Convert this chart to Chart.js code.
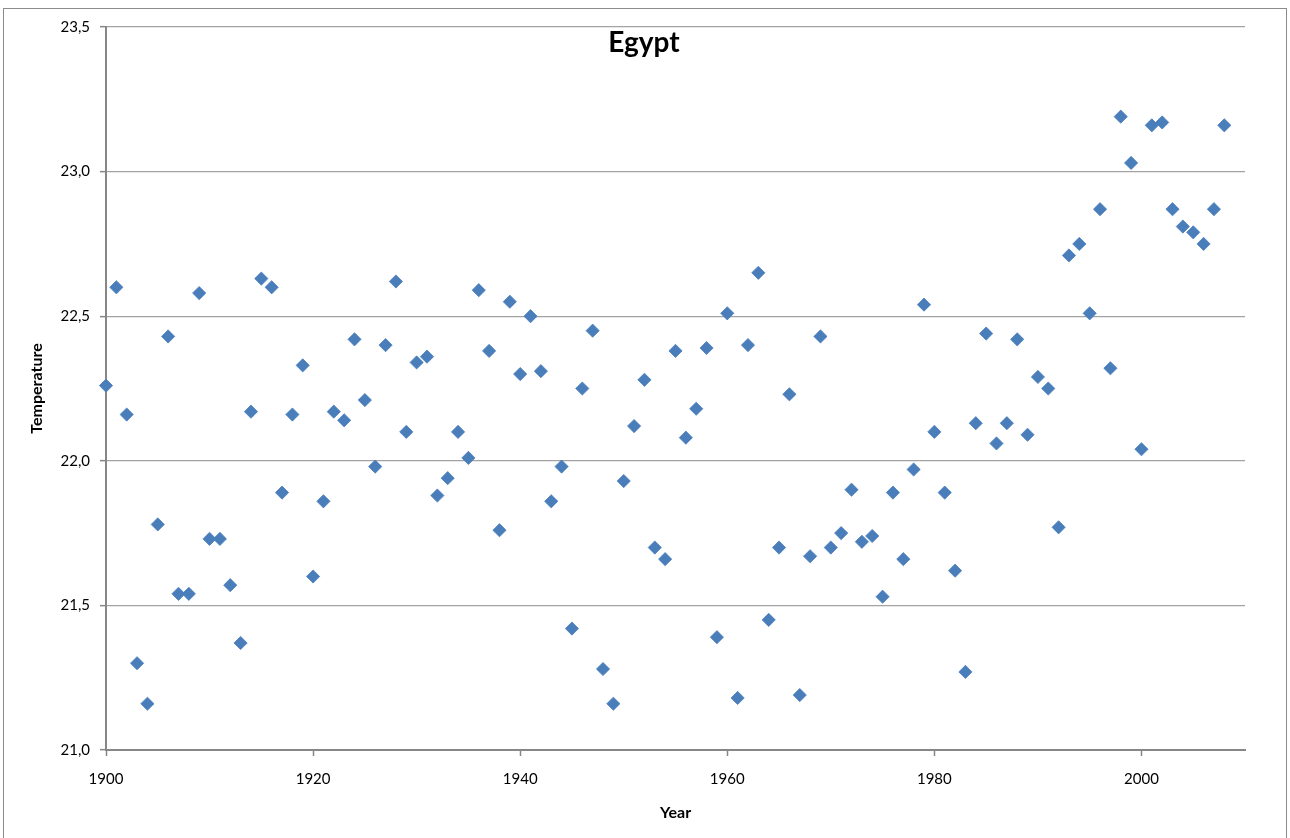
<!DOCTYPE html>
<html>
<head>
<meta charset="utf-8">
<title>Egypt</title>
<script src="https://cdn.jsdelivr.net/npm/chart.js@4/dist/chart.umd.min.js"></script>
<style>
  html, body { margin: 0; padding: 0; background: #ffffff; }
  #wrap { position: relative; width: 1290px; height: 838px; }
  canvas { display: block; }
</style>
</head>
<body>
<div id="wrap"><canvas id="chart" width="1290" height="838"></canvas></div>
<script>
// Annual mean temperature, Egypt
const years = [
  1900, 1901, 1902, 1903, 1904, 1905, 1906, 1907, 1908, 1909,
  1910, 1911, 1912, 1913, 1914, 1915, 1916, 1917, 1918, 1919,
  1920, 1921, 1922, 1923, 1924, 1925, 1926, 1927, 1928, 1929,
  1930, 1931, 1932, 1933, 1934, 1935, 1936, 1937, 1938, 1939,
  1940, 1941, 1942, 1943, 1944, 1945, 1946, 1947, 1948, 1949,
  1950, 1951, 1952, 1953, 1954, 1955, 1956, 1957, 1958, 1959,
  1960, 1961, 1962, 1963, 1964, 1965, 1966, 1967, 1968, 1969,
  1970, 1971, 1972, 1973, 1974, 1975, 1976, 1977, 1978, 1979,
  1980, 1981, 1982, 1983, 1984, 1985, 1986, 1987, 1988, 1989,
  1990, 1991, 1992, 1993, 1994, 1995, 1996, 1997, 1998, 1999,
  2000, 2001, 2002, 2003, 2004, 2005, 2006, 2007, 2008
];

const temperatures = [
  22.26, 22.60, 22.16, 21.30, 21.16, 21.78, 22.43, 21.54, 21.54, 22.58,
  21.73, 21.73, 21.57, 21.37, 22.17, 22.63, 22.60, 21.89, 22.16, 22.33,
  21.60, 21.86, 22.17, 22.14, 22.42, 22.21, 21.98, 22.40, 22.62, 22.10,
  22.34, 22.36, 21.88, 21.94, 22.10, 22.01, 22.59, 22.38, 21.76, 22.55,
  22.30, 22.50, 22.31, 21.86, 21.98, 21.42, 22.25, 22.45, 21.28, 21.16,
  21.93, 22.12, 22.28, 21.70, 21.66, 22.38, 22.08, 22.18, 22.39, 21.39,
  22.51, 21.18, 22.40, 22.65, 21.45, 21.70, 22.23, 21.19, 21.67, 22.43,
  21.70, 21.75, 21.90, 21.72, 21.74, 21.53, 21.89, 21.66, 21.97, 22.54,
  22.10, 21.89, 21.62, 21.27, 22.13, 22.44, 22.06, 22.13, 22.42, 22.09,
  22.29, 22.25, 21.77, 22.71, 22.75, 22.51, 22.87, 22.32, 23.19, 23.03,
  22.04, 23.16, 23.17, 22.87, 22.81, 22.79, 22.75, 22.87, 23.16
];

// Axis ranges and tick steps
const xRange = [1900, 2010];
const xStep = 20;
const yRange = [21.0, 23.5];
const yStep = 0.5;

const chartTitle = 'Egypt';
const xTitle = 'Year';
const yTitle = 'Temperature';

const points = years.map((yr, i) => ({ x: yr, y: temperatures[i] }));

const FONT = 'Lato, "Open Sans", "DejaVu Sans", sans-serif';
const AXIS_GREY = '#878787';
const GRID_GREY = '#A3A3A3';

// Outer frame and overlaid title
const framePlugin = {
  id: 'frameAndTitle',
  afterDraw(chart) {
    const ctx = chart.ctx;
    ctx.save();
    ctx.strokeStyle = '#8c8c8c';
    ctx.lineWidth = 1;
    ctx.strokeRect(3.5, 8.5, 1283, 835);
    ctx.fillStyle = '#000';
    ctx.font = 'bold 28px ' + FONT;
    ctx.textAlign = 'center';
    ctx.textBaseline = 'middle';
    ctx.fillText(chartTitle, 644, 43);
    ctx.restore();
  }
};

new Chart(document.getElementById('chart'), {
  type: 'scatter',
  data: {
    datasets: [{
      label: chartTitle,
      data: points,
      clip: false,
      pointStyle: 'rectRot',
      pointRadius: 6.6,
      pointHoverRadius: 6.6,
      backgroundColor: '#4A7EBB',
      borderColor: '#4A7EBB',
      borderWidth: 0.8
    }]
  },
  options: {
    responsive: false,
    animation: false,
    events: [],
    layout: { padding: { left: 0, top: 27, right: 45, bottom: 0 } },
    plugins: {
      legend: { display: false },
      tooltip: { enabled: false },
      title: { display: false }
    },
    scales: {
      x: {
        type: 'linear',
        min: xRange[0],
        max: xRange[1],
        afterFit(scale) { scale.height = 88; },
        ticks: {
          stepSize: xStep,
          includeBounds: false,
          padding: 14,
          color: '#000',
          font: { family: FONT, size: 15 },
          callback: v => String(v)
        },
        grid: {
          display: true,
          drawOnChartArea: false,
          drawTicks: true,
          tickLength: 6,
          tickColor: AXIS_GREY,
          tickWidth: 1.5
        },
        border: { display: true, color: AXIS_GREY, width: 2 },
        title: {
          display: true,
          text: xTitle,
          color: '#000',
          font: { family: FONT, size: 16, weight: 'bold' },
          padding: { top: 0, bottom: 16 }
        }
      },
      y: {
        type: 'linear',
        min: yRange[0],
        max: yRange[1],
        afterFit(scale) { scale.width = 106; },
        ticks: {
          stepSize: yStep,
          padding: 10,
          color: '#000',
          font: { family: FONT, size: 15 },
          callback: v => v.toFixed(1).replace('.', ',')
        },
        grid: {
          display: true,
          color: GRID_GREY,
          lineWidth: 1.3,
          drawTicks: true,
          tickLength: 6,
          tickColor: AXIS_GREY,
          tickWidth: 1.5
        },
        border: { display: true, color: AXIS_GREY, width: 2 },
        title: {
          display: true,
          text: yTitle,
          color: '#000',
          font: { family: FONT, size: 16, weight: 'bold' },
          padding: { top: 27, bottom: 0 }
        }
      }
    }
  },
  plugins: [framePlugin]
});
</script>
</body>
</html>
